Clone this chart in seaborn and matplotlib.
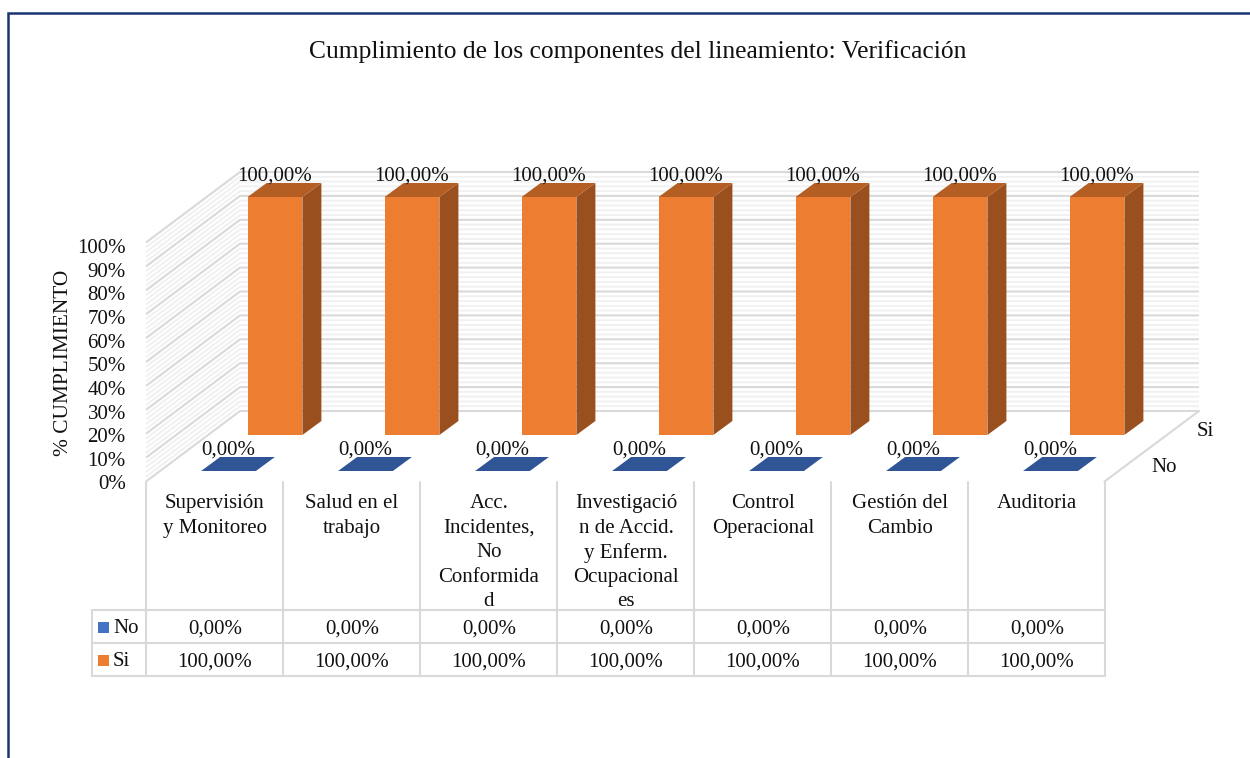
import matplotlib
matplotlib.use("Agg")
import matplotlib.pyplot as plt
import pandas as pd
import seaborn as sns
from matplotlib.patches import Polygon, Rectangle

categorias = ["Supervisión\ny Monitoreo", "Salud en el\ntrabajo",
              "Acc.\nIncidentes,\nNo\nConformida\nd",
              "Investigació\nn de Accid.\ny Enferm.\nOcupacional\nes",
              "Control\nOperacional", "Gestión del\nCambio", "Auditoria"]
valores_no = [0, 0, 0, 0, 0, 0, 0]
valores_si = [100, 100, 100, 100, 100, 100, 100]
ticks_y = [0, 10, 20, 30, 40, 50, 60, 70, 80, 90, 100]
titulo = "Cumplimiento de los componentes del lineamiento: Verificación"
etiqueta_y = "% CUMPLIMIENTO"

W, H = 1250, 758
sns.set_theme(style="white")
plt.rcParams["font.family"] = ["Liberation Serif", "DejaVu Serif"]
FS = 15
TXT = "#111111"
GRID = "#D9D9D9"
MINOR = "#F0F0F0"


def px_axes(fig, x0, x1, ytop, ybot, **kw):
    return fig.add_axes([x0 / W, 1 - ybot / H, (x1 - x0) / W, (ybot - ytop) / H], **kw)


def pct(v):
    return f"{v:.2f}%".replace(".", ",")


fig = plt.figure(figsize=(W / 100, H / 100), dpi=100, facecolor="white")

# Pixel-space layer: frame, walls, table
bg = fig.add_axes([0, 0, 1, 1], zorder=0)
bg.set_xlim(0, W)
bg.set_ylim(H, 0)
bg.axis("off")

bg.plot([7.5, 7.5, W], [H, 12.5, 12.5], color="#1B3573", lw=1.8, solid_joinstyle="miter")
bg.text(638, 52, titulo, ha="center", va="center", fontsize=18.35, color=TXT)

# 3D walls
xl0, xl1, xr0, xr1 = 146, 240, 1104.5, 1199
yb, yt = 411, 172
ddy = 70.5
for k in range(51):
    y = yb - (yb - yt) * k / 50
    major = k % 5 == 0
    c, lw, z = (GRID, 1.5, 2) if major else (MINOR, 1.3, 1)
    bg.plot([xl0, xl1, xr1], [y + ddy, y, y], color=c, lw=lw, zorder=z, solid_capstyle="butt")
bg.plot([xr0, xr1], [yb + ddy, yb], color=GRID, lw=1.5, zorder=2)

# Table
cols = [146 + 137 * i for i in range(8)]
for x in cols:
    bg.plot([x, x], [482, 676], color=GRID, lw=1.5, zorder=2)
for y in (610, 643, 676):
    bg.plot([91.5, cols[-1]], [y, y], color=GRID, lw=1.5, zorder=2)
bg.plot([91.5, 91.5], [610, 676], color=GRID, lw=1.5, zorder=2)

for i, cat in enumerate(categorias):
    cx = (cols[i] + cols[i + 1]) / 2 + 0.5
    for j, linea in enumerate(cat.split("\n")):
        bg.text(cx, 503.5 + 24.6 * j, linea, ha="center", va="center", fontsize=FS, color=TXT)
    bg.text(cx, 629, pct(valores_no[i]), ha="center", va="center", fontsize=FS, color=TXT)
    bg.text(cx, 662, pct(valores_si[i]), ha="center", va="center", fontsize=FS, color=TXT)

for y, nombre, col in ((627, "No", "#4472C4"), (660, "Si", "#ED7D31")):
    bg.add_patch(Rectangle((98, y - 5.5), 11, 11, color=col, lw=0))
    bg.text(113, y + 1.5, nombre, ha="left", va="center", fontsize=FS, color=TXT)

bg.text(1205.5, 431.5, "Si", ha="center", va="center", fontsize=FS, color=TXT)
bg.text(1164, 467.5, "No", ha="center", va="center", fontsize=FS, color=TXT)

# Front axis carrying the percentage scale
front = px_axes(fig, 146, 1105, 246, 482.5, zorder=1)
front.patch.set_visible(False)
front.set_ylim(0, 100)
front.set_xticks([])
front.set_yticks(ticks_y)
front.set_yticklabels([f"{t}%" for t in ticks_y], fontsize=FS, color=TXT)
front.tick_params(axis="y", length=0, pad=14.5)
front.set_ylabel(etiqueta_y, fontsize=15.4, color=TXT, labelpad=3, y=0.505)
for s in front.spines.values():
    s.set_visible(False)


def barras(ax, valores, frente, lado, cima, dx=19 / 137, dy=14 / 2.38):
    df = pd.DataFrame({"componente": categorias, "valor": valores})
    sns.barplot(data=df, x="componente", y="valor", color=frente, saturation=1,
                width=0.4, ax=ax, errorbar=None, zorder=3, linewidth=0, edgecolor="none")
    ax.set_xlim(-0.5, len(categorias) - 0.5)
    ax.set_ylim(0, 100)
    ax.axis("off")
    for p in list(ax.patches):
        x, w, h = p.get_x(), p.get_width(), p.get_height()
        if h > 0:
            ax.add_patch(Polygon([(x + w, 0), (x + w + dx, dy), (x + w + dx, h + dy), (x + w, h)],
                                 closed=True, fc=lado, ec="none", clip_on=False, zorder=3))
        ax.add_patch(Polygon([(x, h), (x + w, h), (x + w + dx, h + dy), (x + dx, h + dy)],
                             closed=True, fc=cima, ec="none", clip_on=False, zorder=3))
        ax.annotate(pct(h), (x + w / 2, h), xytext=(0, 21), textcoords="offset pixels",
                    ha="center", va="center", fontsize=FS, color=TXT, zorder=5,
                    annotation_clip=False)


ax_si = px_axes(fig, 206.5, 1165.5, 197, 435, zorder=2)
ax_si.patch.set_visible(False)
barras(ax_si, valores_si, "#ED7D31", "#99501E", "#B55E23")

ax_no = px_axes(fig, 160, 1119, 233, 471, zorder=3)
ax_no.patch.set_visible(False)
barras(ax_no, valores_no, "#4472C4", "#2F5597", "#2F5597")

fig.savefig("out.png", dpi=100, facecolor="white")
